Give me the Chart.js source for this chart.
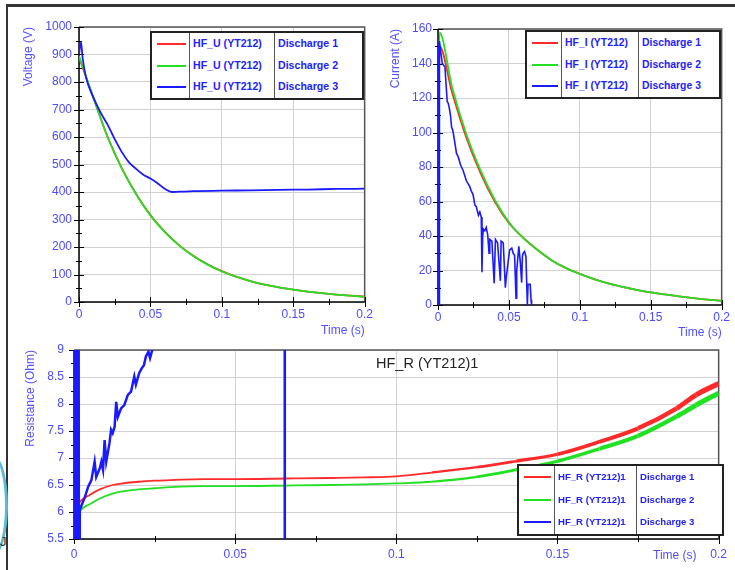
<!DOCTYPE html>
<html>
<head>
<meta charset="utf-8">
<script src="https://cdn.jsdelivr.net/npm/chart.js@4.4.0/dist/chart.umd.min.js"></script>
<style>
body { margin:0; background:#fff; width:735px; height:570px; overflow:hidden; position:relative; font-family:"Liberation Sans", Arial, sans-serif; }
canvas { position:absolute; }
.frame { position:absolute; left:6px; top:4px; width:740px; height:580px; border-top:3px solid #333; border-left:2px solid #333; }
.logo { position:absolute; left:-22px; top:455px; width:24px; height:95px; border:3px solid #58bcd4; border-radius:50%; }
.logoJ { position:absolute; left:0px; top:534px; font-size:13px; color:#333; }
.lg { position:absolute; border:2px solid #222; display:flex; background:#fff; }
.lg .col { border-left:1px solid #555; }
.lg .col:first-child { border-left:none; }
.lg .cell { font-weight:bold; color:#2222ff; padding-left:3px; white-space:nowrap; position:relative; }
.lg .cell span.smp { position:absolute; left:5px; right:3px; height:2px; }
.note { position:absolute; white-space:nowrap; }
</style>
</head>
<body>
<div class="frame"></div>
<div class="logo"></div>
<div class="logoJ">J</div>
<canvas id="chartU" width="368" height="332" style="left:10px;top:10px"></canvas>
<canvas id="chartI" width="360" height="332" style="left:375px;top:10px"></canvas>
<canvas id="chartR" width="725" height="230" style="left:10px;top:340px"></canvas>
<div class="note" style="left:376px;top:355px;font-size:14.5px;color:#222">HF_R (YT212)1</div>
<div class="note" style="left:653px;top:548px;font-size:12px;color:#5050ff">Time (s)</div>
<script>
// tiempos y valores
const xTicks = [0, 0.05, 0.1, 0.15, 0.2];
const discharges = ['Discharge 1', 'Discharge 2', 'Discharge 3'];
const colores = ['#ff2a2a', '#22e022', '#1a1aff'];

const tVoltage = [0, 0.01, 0.02, 0.03, 0.04, 0.05, 0.06, 0.07, 0.08, 0.09, 0.1, 0.11, 0.12, 0.13, 0.14, 0.15, 0.16, 0.17, 0.18, 0.19, 0.2];
const voltage1 = [890, 743, 601, 486, 393, 316, 256, 207, 168, 137, 112, 92, 76, 63, 53, 45, 38, 32, 27, 23, 20];
const voltage2 = [895, 744, 600, 485, 392, 315, 255, 206, 167, 136, 111, 92, 76, 63, 53, 45, 38, 32, 27, 23, 19];
const tVoltage3 = [0, 0.0014, 0.0025, 0.005, 0.01, 0.015, 0.02, 0.025, 0.03, 0.035, 0.04, 0.045, 0.05, 0.055, 0.06, 0.065, 0.07, 0.08, 0.1, 0.12, 0.14, 0.16, 0.18, 0.2];
const voltage3 = [900, 945, 890, 815, 745, 690, 645, 592, 545, 508, 484, 463, 449, 432, 412, 400, 401, 403, 405, 406, 408, 409, 411, 412];

const tCurrent = [0, 0.001, 0.01, 0.02, 0.03, 0.04, 0.05, 0.06, 0.07, 0.08, 0.09, 0.1, 0.11, 0.12, 0.13, 0.14, 0.15, 0.16, 0.17, 0.18, 0.19, 0.2];
const current1 = [0, 150, 123, 97, 76.5, 60, 47.5, 39, 32, 26, 21.5, 18, 15, 12.5, 10.5, 8.8, 7.3, 6.1, 5.0, 4.0, 3.1, 2.4];
const current2 = [0, 158, 126, 99, 78, 61, 48, 39, 32, 26, 21.5, 18, 15, 12.5, 10.5, 8.8, 7.3, 6.1, 5.0, 4.0, 3.1, 2.4];
const tCurrent3 = [0, 0.0002, 0.0004, 0.0006, 0.0008, 0.001, 0.003, 0.0049, 0.006, 0.0065, 0.0072, 0.008, 0.0088, 0.0096, 0.0105, 0.0119, 0.013, 0.0142, 0.016, 0.0177, 0.02, 0.0224, 0.0235, 0.0247, 0.026, 0.027, 0.0285, 0.0295, 0.0305, 0.031, 0.0315, 0.032, 0.033, 0.034, 0.035, 0.036, 0.0365, 0.038, 0.0396, 0.0405, 0.042, 0.043, 0.044, 0.0445, 0.046, 0.0475, 0.048, 0.049, 0.0505, 0.052, 0.053, 0.054, 0.055, 0.0555, 0.057, 0.058, 0.059, 0.0595, 0.06, 0.061, 0.062, 0.063, 0.0635, 0.064, 0.065, 0.0656, 0.066];
const current3 = [0, 150, 0, 152, 0, 153, 140, 138, 124, 118, 117, 114, 110, 103, 101, 94, 88, 86, 81, 78, 72, 68.6, 66, 64, 58, 57, 52, 54, 51, 19, 40, 44, 43, 45, 41, 30, 38, 37, 12.6, 38, 36, 25, 14, 37, 36, 10, 15, 22, 32, 33, 30, 29, 4, 20, 34, 25, 13, 28, 30, 31, 28, 0, 12, 12, 12, 3, 0];

const tResist = [0, 0.001, 0.002, 0.005, 0.008, 0.012, 0.015, 0.02, 0.025, 0.03, 0.04, 0.05, 0.066, 0.08, 0.09, 0.1, 0.111, 0.125, 0.137, 0.15, 0.163, 0.175, 0.187, 0.193, 0.2];
const resist1 = [6.0, 6.1, 6.2, 6.32, 6.42, 6.5, 6.53, 6.56, 6.58, 6.59, 6.61, 6.61, 6.62, 6.63, 6.64, 6.66, 6.73, 6.83, 6.94, 7.07, 7.3, 7.55, 7.92, 8.17, 8.38];
const resist2 = [5.8, 5.92, 6.03, 6.15, 6.25, 6.34, 6.38, 6.42, 6.44, 6.46, 6.48, 6.48, 6.49, 6.5, 6.51, 6.53, 6.56, 6.65, 6.78, 6.94, 7.17, 7.41, 7.77, 7.98, 8.2];
const tResist3 = [0, 0.0002, 0.0004, 0.0006, 0.0008, 0.001, 0.0012, 0.0014, 0.0016, 0.0018, 0.0034, 0.0044, 0.0054, 0.0064, 0.0069, 0.008, 0.0085, 0.009, 0.0095, 0.01, 0.011, 0.0115, 0.012, 0.0126, 0.0131, 0.0136, 0.0146, 0.0156, 0.0167, 0.0177, 0.0187, 0.0192, 0.0202, 0.021, 0.0217, 0.0223, 0.0231, 0.0236, 0.0245, 0.03, 0.04, 0.05, 0.06, 0.0653, 0.0654, 0.08, 0.1, 0.2];
const resist3 = [0, 12, 0, 12, 0, 12, 0, 12, 0, 6.04, 6.28, 6.47, 6.59, 6.93, 6.65, 6.81, 6.93, 6.78, 7.33, 6.93, 7.27, 7.52, 7.46, 7.58, 8.04, 7.76, 7.92, 7.98, 8.17, 8.23, 8.51, 8.36, 8.57, 8.66, 8.72, 8.88, 8.97, 8.85, 9.05, 9.8, 11, 13, 18, 30, 0, 0, 0, 0];

Chart.defaults.font.family = '"Liberation Sans", Arial, sans-serif';
Chart.defaults.font.size = 12;
const azulTicks = '#4b4bff';
const azulTitulo = '#5050ff';

function puntos(xs, ys) {
    return xs.map(function (x, i) { return {x: x, y: ys[i]}; });
}

function fmt(v) {
    return String(Number(v.toFixed(2)));
}

// marco del area, ejes y marcas menores
const marcoPlugin = {
    id: 'marco',
    beforeDatasetsDraw(chart, args, opts) {
        const ctx = chart.ctx;
        const a = chart.chartArea;
        const sx = chart.scales.x, sy = chart.scales.y;
        ctx.save();
        ctx.strokeStyle = '#555';
        ctx.lineWidth = 1.5;
        ctx.beginPath();
        ctx.moveTo(a.left, a.top); ctx.lineTo(a.right, a.top); ctx.lineTo(a.right, a.bottom);
        ctx.stroke();
        ctx.strokeStyle = '#000';
        ctx.beginPath();
        ctx.moveTo(a.left, a.top); ctx.lineTo(a.left, a.bottom); ctx.lineTo(a.right, a.bottom);
        ctx.stroke();
        ctx.lineWidth = 1;
        ctx.beginPath();
        let n = Math.round((sx.max - sx.min) / opts.xMinor);
        for (let i = 0; i <= n; i++) {
            const px = Math.round(sx.getPixelForValue(sx.min + i * opts.xMinor)) + 0.5;
            const len = i % 2 === 0 ? 5 : 3;
            ctx.moveTo(px, a.bottom - len); ctx.lineTo(px, a.bottom + len);
        }
        n = Math.round((sy.max - sy.min) / opts.yMinor);
        for (let i = 0; i <= n; i++) {
            const py = Math.round(sy.getPixelForValue(sy.min + i * opts.yMinor)) + 0.5;
            const len = i % 2 === 0 ? 5 : 3;
            ctx.moveTo(a.left - len, py); ctx.lineTo(a.left + len, py);
        }
        ctx.stroke();
        ctx.restore();
    }
};

function crearGrafico(id, cfg) {
    const datasets = cfg.series.map(function (s, i) {
        return {
            data: s.data,
            borderColor: colores[i],
            borderWidth: s.width || 1.8,
            pointRadius: 0,
            tension: 0,
            cubicInterpolationMode: s.smooth ? 'monotone' : 'default',
            order: 3 - i,
            segment: s.segment
        };
    });
    return new Chart(document.getElementById(id), {
        type: 'line',
        data: {datasets: datasets},
        options: {
            responsive: false,
            animation: false,
            layout: {padding: cfg.padding},
            plugins: {legend: {display: false}, tooltip: {enabled: false}, marco: {xMinor: 0.025, yMinor: cfg.yMinor}},
            scales: {
                x: {
                    type: 'linear', min: 0, max: 0.2,
                    afterBuildTicks: function (s) { s.ticks = xTicks.map(function (v) { return {value: v}; }); },
                    afterFit: function (s) { s.height = cfg.xHeight; },
                    grid: {color: '#d2d2d2', drawTicks: false},
                    border: {display: false},
                    ticks: {color: azulTicks, padding: cfg.xPad, maxRotation: 0, callback: fmt},
                    title: cfg.xTitle ? {display: true, text: 'Time (s)', align: 'end', color: azulTitulo, padding: {top: 0, bottom: cfg.xTitlePad}} : {display: false}
                },
                y: {
                    min: cfg.yMin, max: cfg.yMax,
                    ticks: {stepSize: cfg.yStep, color: azulTicks, padding: cfg.yPad, callback: fmt},
                    afterFit: function (s) {
                        s.width = cfg.yWidth;
                        s.paddingTop = 0;
                        s.paddingBottom = 0;
                    },
                    grid: {color: '#d2d2d2', drawTicks: false},
                    border: {display: false},
                    title: {display: true, text: cfg.yTitle, align: 'end', color: azulTitulo, padding: {top: cfg.yTitlePad, bottom: 0}}
                }
            }
        },
        plugins: [marcoPlugin]
    });
}

crearGrafico('chartU', {
    series: [
        {data: puntos(tVoltage, voltage1), smooth: true},
        {data: puntos(tVoltage, voltage2), smooth: true},
        {data: puntos(tVoltage3, voltage3), smooth: true}
    ],
    padding: {top: 17, right: 13, bottom: 0, left: 0},
    xHeight: 40, xPad: 5, xTitle: true, xTitlePad: 4,
    yMin: 0, yMax: 1000, yStep: 100, yMinor: 50, yWidth: 69, yPad: 7,
    yTitle: 'Voltage (V)', yTitlePad: 11
});

crearGrafico('chartI', {
    series: [
        {data: puntos(tCurrent, current1), smooth: true},
        {data: puntos(tCurrent, current2), smooth: true},
        {data: puntos(tCurrent3, current3), width: 1.6}
    ],
    padding: {top: 19, right: 11, bottom: 0, left: 0},
    xHeight: 37, xPad: 5, xTitle: true, xTitlePad: 2,
    yMin: 0, yMax: 160, yStep: 20, yMinor: 10, yWidth: 63, yPad: 6,
    yTitle: 'Current (A)', yTitlePad: 13
});

function anchoRuido(ctx) {
    const x = ctx.p0.parsed.x;
    return x > 0.1 ? 1.8 + (x - 0.1) * 35 : 1.8;
}

crearGrafico('chartR', {
    series: [
        {data: puntos(tResist, resist1), smooth: true, segment: {borderWidth: anchoRuido}},
        {data: puntos(tResist, resist2), smooth: true, segment: {borderWidth: anchoRuido}},
        {data: puntos(tResist3, resist3), width: 2.5}
    ],
    padding: {top: 10, right: 10, bottom: 0, left: 0},
    xHeight: 31, xPad: 8, xTitle: false,
    yMin: 5.5, yMax: 9, yStep: 0.5, yMinor: 0.25, yWidth: 64, yPad: 10,
    yTitle: 'Resistance (Ohm)', yTitlePad: 13
});

// leyendas en tabla
function crearLeyenda(left, top, widths, rowH, fontSize, nombre) {
    const box = document.createElement('div');
    box.className = 'lg';
    box.style.left = left + 'px';
    box.style.top = top + 'px';
    widths.forEach(function (w, c) {
        const col = document.createElement('div');
        col.className = 'col';
        col.style.width = w + 'px';
        for (let r = 0; r < 3; r++) {
            const cell = document.createElement('div');
            cell.className = 'cell';
            cell.style.height = rowH + 'px';
            cell.style.lineHeight = rowH + 'px';
            cell.style.fontSize = fontSize + 'px';
            if (c === 0) {
                const smp = document.createElement('span');
                smp.className = 'smp';
                smp.style.top = Math.round(rowH / 2 - 1) + 'px';
                smp.style.background = colores[r];
                cell.appendChild(smp);
            } else if (c === 1) {
                cell.textContent = nombre;
            } else {
                cell.textContent = discharges[r];
            }
            col.appendChild(cell);
        }
        box.appendChild(col);
    });
    document.body.appendChild(box);
}

crearLeyenda(150, 31, [37, 84, 87], 21.5, 10.6, 'HF_U (YT212)');
crearLeyenda(525, 30, [34, 76, 80], 21.5, 10.4, 'HF_I (YT212)');
crearLeyenda(517, 464, [35, 81, 85], 22.5, 9.6, 'HF_R (YT212)1');
</script>
</body>
</html>
